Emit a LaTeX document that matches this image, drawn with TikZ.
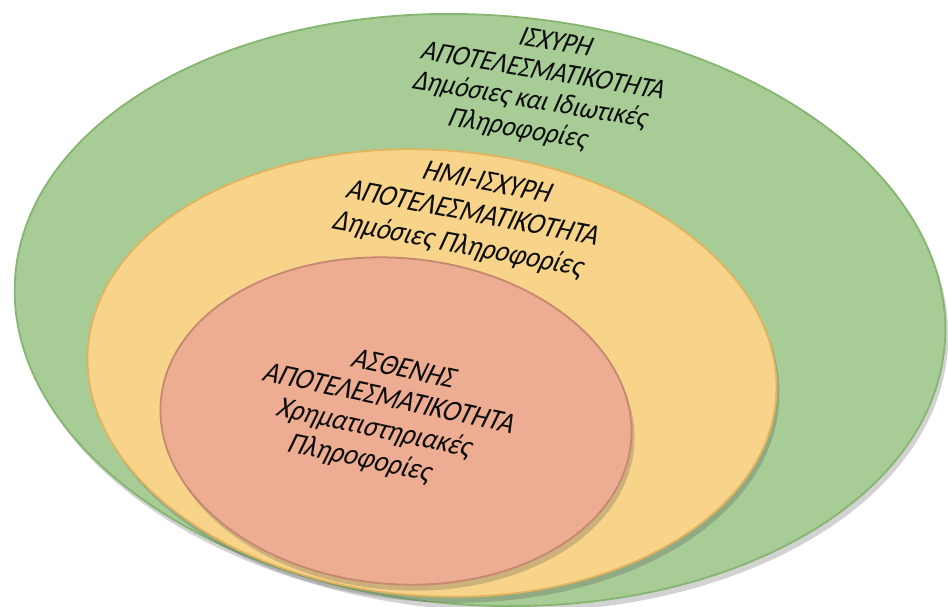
\documentclass[tikz,border=0pt]{standalone}
\usepackage{fontspec}
\setmainfont{Carlito}
\usepackage{tikz}
\usetikzlibrary{shapes.geometric, shadows, positioning}
\definecolor{strongfill}{HTML}{A8CC96}
\definecolor{strongline}{HTML}{86B570}
\definecolor{semifill}{HTML}{F7D48A}
\definecolor{semiline}{HTML}{E2B35E}
\definecolor{weakfill}{HTML}{EDAD92}
\definecolor{weakline}{HTML}{C58870}
\tikzset{
	every node/.style={
		align=center,
	},
}
\tikzstyle{plate} = [ellipse, inner sep=0pt, line width=1.8pt, drop shadow={shadow xshift=3pt, shadow yshift=-6pt, opacity=.25, fill=black!70}]
\tikzstyle{platetext} = [text=black!95, inner sep=0pt]

\begin{document}
\begin{tikzpicture}[x=1pt, y=-1pt]
    \useasboundingbox (0,0) rectangle (948,607);

    \node[plate, fill=strongfill, draw=strongline, minimum width=932pt, minimum height=590pt, rotate=-4] (strong) at (480,310) {};
    \node[plate, fill=semifill, draw=semiline, minimum width=690pt, minimum height=446pt, rotate=-4] (semistrong) at (432,373) {};
    \node[plate, fill=weakfill, draw=weakline, minimum width=472pt, minimum height=326pt, rotate=-5] (weak) at (396,421) {};

    \node[platetext, rotate=-9.5, xslant=.25, yscale=1.12, font=\fontsize{25.5}{27.2}\selectfont] (strongtxt) at (537,87) {ΙΣΧΥΡΗ\\ΑΠΟΤΕΛΕΣΜΑΤΙΚΟΤΗΤΑ\\Δημόσιες και Ιδιωτικές\\Πληροφορίες};
    \node[platetext, rotate=-10.8, xslant=.25, yscale=1.12, font=\fontsize{26.5}{29.5}\selectfont] (semitxt) at (473,215) {ΗΜΙ-ΙΣΧΥΡΗ\\ΑΠΟΤΕΛΕΣΜΑΤΙΚΟΤΗΤΑ\\Δημόσιες Πληροφορίες};
    \node[platetext, rotate=-12, xslant=.25, yscale=1.12, font=\fontsize{26.5}{28.6}\selectfont] (weaktxt) at (382,415) {ΑΣΘΕΝΗΣ\\ΑΠΟΤΕΛΕΣΜΑΤΙΚΟΤΗΤΑ\\Χρηματιστηριακές\\Πληροφορίες};

\end{tikzpicture}
\end{document}
